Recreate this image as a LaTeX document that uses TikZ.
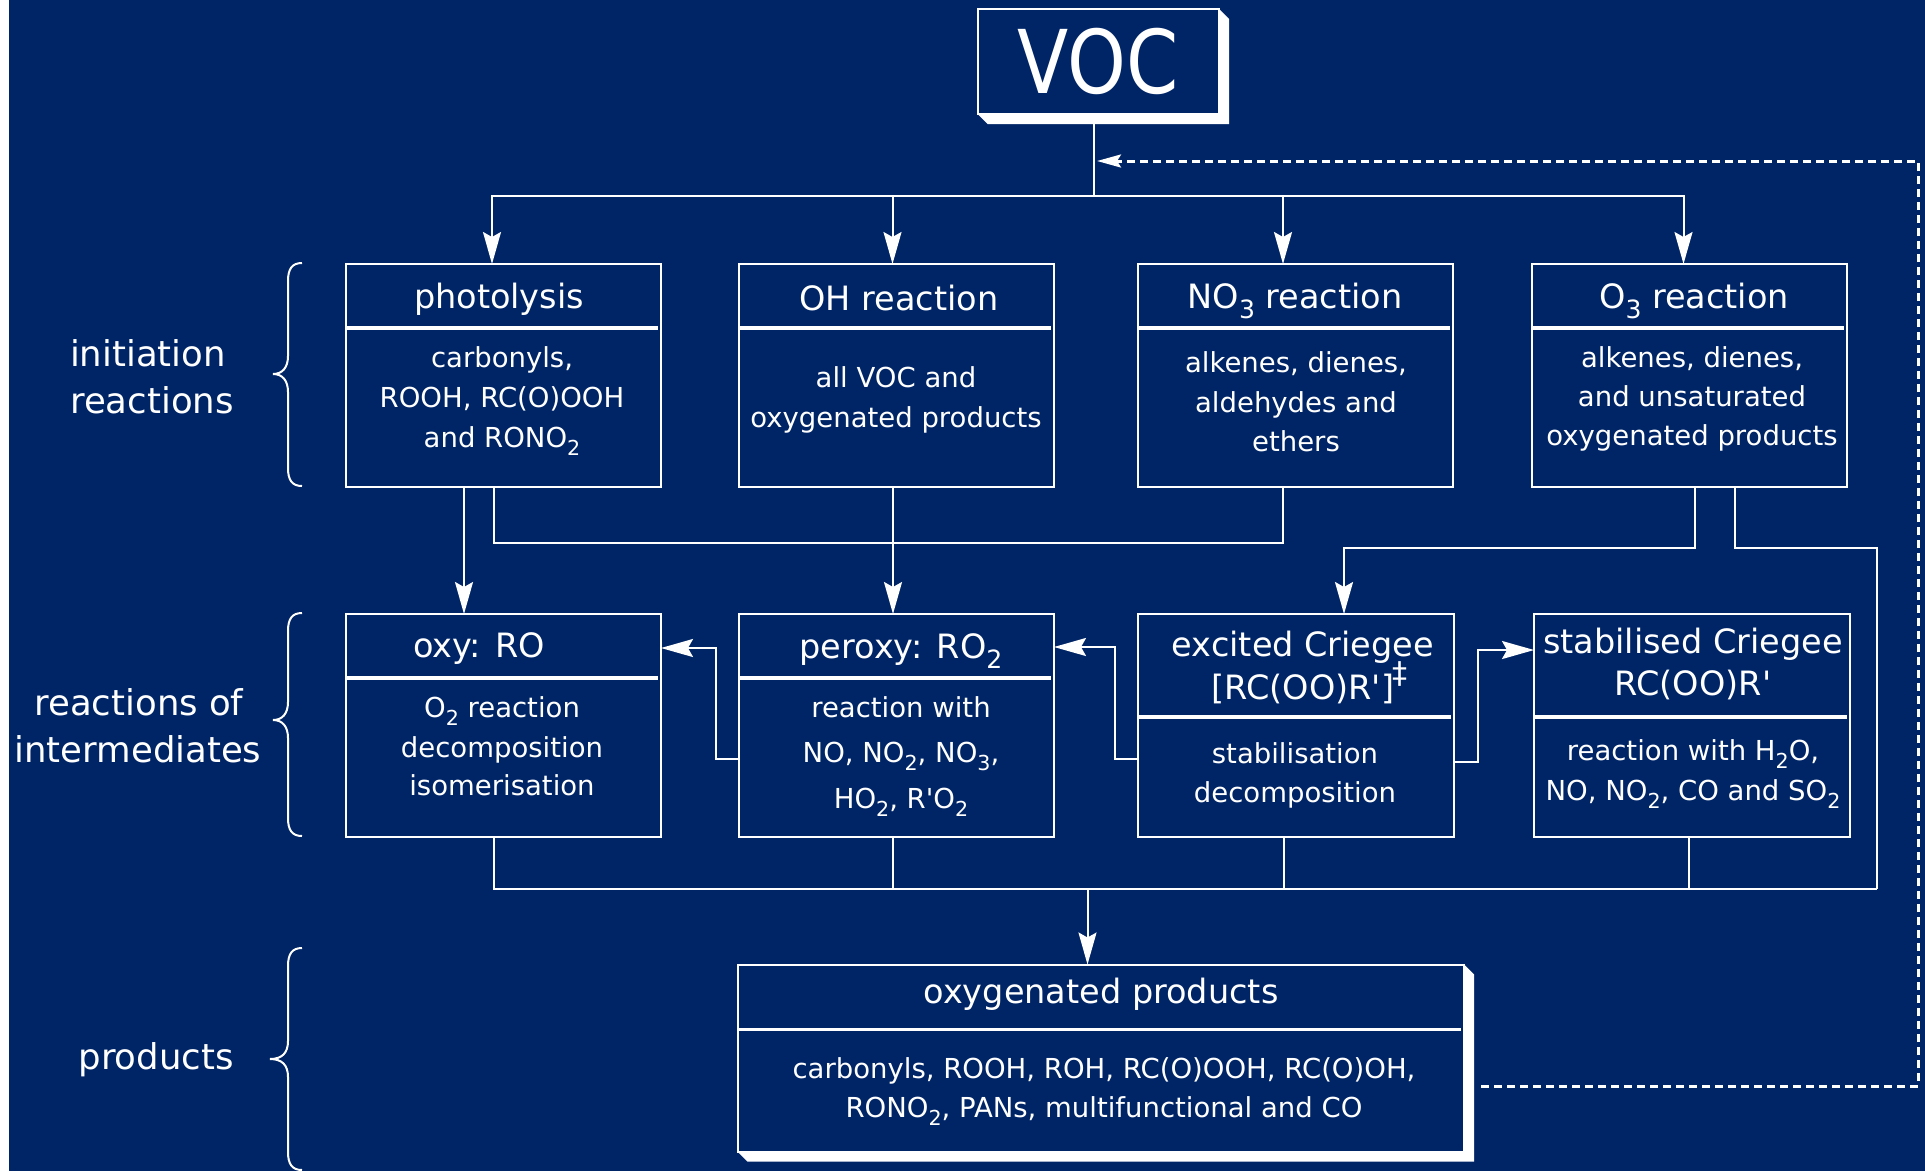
\documentclass[tikz,border=0pt]{standalone}
\usepackage{fontspec}
\setmainfont{DejaVu Sans}
\usepackage{graphicx}
\usetikzlibrary{arrows.meta,calc}
\definecolor{navy}{RGB}{0,37,102}
\newcommand\chsub[1]{\raisebox{-0.3em}{\scalebox{0.75}{#1}}}
\newcommand\apos{\textquotesingle}
\begin{document}
\begin{tikzpicture}[x=1pt,y=-1pt,
  box/.style={draw=white,line width=2pt,inner sep=0pt,outer sep=0pt,anchor=north west},
  divider/.style={draw=white,line width=3.5pt},
  ttl/.style={text=white,inner sep=0pt,anchor=base,font=\fontsize{33.5}{40}\selectfont},
  bod/.style={text=white,inner sep=0pt,anchor=base,font=\fontsize{27.5}{40}\selectfont},
  lbl/.style={text=white,inner sep=0pt,anchor=base,font=\fontsize{35.5}{47}\selectfont},
  conn/.style={draw=white,line width=2pt},
  arr/.style={conn,-{Stealth[length=32pt,width=18pt,inset=5pt]}},
  dashline/.style={draw=white,line width=3pt,dash pattern=on 8pt off 5pt},
  darr/.style={dashline,-{Stealth[length=24pt,width=13pt,inset=4pt]}},
  bracestyle/.style={draw=white,line width=2pt}]
\useasboundingbox (0,0) rectangle (1925,1171);
\fill[white] (0,0) rectangle (1925,1171);
\fill[navy] (9,0) rectangle (1925,1171);

% ---------- VOC ----------
\node[box,minimum width=241.5pt,minimum height=105pt] (voc) at (977.5,9) {};
\fill[white] (voc.north east) -- ($(voc.north east)+(10,10)$) -- ($(voc.south east)+(10,10)$)
  -- ($(voc.south west)+(10,10)$) -- (voc.south west) -- (voc.south east) -- cycle;
\node[text=white,inner sep=0pt,anchor=base,font=\fontsize{88}{88}\selectfont] (voct) at (1098,93) {\scalebox{0.85}[1]{VOC}};

% ---------- row 1 ----------
\node[box,minimum width=315pt,minimum height=223pt] (photo) at (345.5,264) {};
\node[box,minimum width=315pt,minimum height=223pt] (oh) at (739,264) {};
\node[box,minimum width=315pt,minimum height=223pt] (nothree) at (1138,264) {};
\node[box,minimum width=315pt,minimum height=223pt] (othree) at (1531.5,264) {};
\foreach \b in {photo,oh,nothree,othree}
  \draw[divider] ($(\b.north west)+(0,64)$) -- ($(\b.north east)+(-3,64)$);

\node[ttl] (photoT) at (499,308.5) {photolysis};
\node[bod] (photoB1) at (502,367) {carbonyls,};
\node[bod] (photoB2) at (502,407) {ROOH, RC(O)OOH};
\node[bod] (photoB3) at (502,447) {and RONO\chsub{2}};

\node[ttl] (ohT) at (899,310) {OH reaction};
\node[bod] (ohB1) at (896,387) {all VOC and};
\node[bod] (ohB2) at (896,427) {oxygenated products};

\node[ttl] (nothreeT) at (1295,308.5) {NO\chsub{3} reaction};
\node[bod] (nothreeB1) at (1296,372) {alkenes, dienes,};
\node[bod] (nothreeB2) at (1296,412) {aldehydes and};
\node[bod] (nothreeB3) at (1296,451) {ethers};

\node[ttl] (othreeT) at (1694,308.5) {O\chsub{3} reaction};
\node[bod] (othreeB1) at (1692,367) {alkenes, dienes,};
\node[bod] (othreeB2) at (1692,406) {and unsaturated};
\node[bod] (othreeB3) at (1692,445) {oxygenated products};

% ---------- row 2 ----------
\node[box,minimum width=315.5pt,minimum height=223pt] (oxy) at (345.5,614) {};
\node[box,minimum width=315pt,minimum height=223pt] (peroxy) at (739,614) {};
\node[box,minimum width=315.5pt,minimum height=223pt] (exc) at (1138,614) {};
\node[box,minimum width=315.5pt,minimum height=223pt] (stab) at (1534,614) {};
\foreach \b in {oxy,peroxy}
  \draw[divider] ($(\b.north west)+(0,64)$) -- ($(\b.north east)+(-3,64)$);
\foreach \b in {exc,stab}
  \draw[divider] ($(\b.north west)+(0,103)$) -- ($(\b.north east)+(-3,103)$);

\node[ttl] (oxyT) at (479,657) {oxy: RO};
\node[bod] (oxyB1) at (502,717) {O\chsub{2} reaction};
\node[bod] (oxyB2) at (502,757) {decomposition};
\node[bod] (oxyB3) at (502,795) {isomerisation};

\node[ttl] (peroxyT) at (901,658) {peroxy: RO\chsub{2}};
\node[bod] (peroxyB1) at (901,717) {reaction with};
\node[bod] (peroxyB2) at (901,762) {NO, NO\chsub{2}, NO\chsub{3},};
\node[bod] (peroxyB3) at (901,808) {HO\chsub{2}, R\apos O\chsub{2}};

\node[ttl] (excT1) at (1303,656) {excited Criegee};
\node[ttl] (excT2) at (1303,699) {[RC(OO)R\apos]};
\node[text=white,inner sep=0pt,font=\fontsize{30}{30}\selectfont] (excdag) at (1400,674) {‡};
\node[bod] (excB1) at (1295,763) {stabilisation};
\node[bod] (excB2) at (1295,802) {decomposition};

\node[ttl] (stabT1) at (1693,653) {stabilised Criegee};
\node[ttl] (stabT2) at (1693,695) {RC(OO)R\apos};
\node[bod] (stabB1) at (1693,760) {reaction with H\chsub{2}O,};
\node[bod] (stabB2) at (1693,800) {NO, NO\chsub{2}, CO and SO\chsub{2}};

% ---------- products ----------
\node[box,minimum width=726.5pt,minimum height=187pt] (prod) at (737.5,964.5) {};
\fill[white] (prod.north east) -- ($(prod.north east)+(10,10)$) -- ($(prod.south east)+(10,10)$)
  -- ($(prod.south west)+(10,10)$) -- (prod.south west) -- (prod.south east) -- cycle;
\draw[divider] ($(prod.north west)+(0,65)$) -- ($(prod.north east)+(-3,65)$);
\node[ttl] (prodT) at (1101,1003) {oxygenated products};
\node[bod] (prodB1) at (1104,1078) {carbonyls, ROOH, ROH, RC(O)OOH, RC(O)OH,};
\node[bod] (prodB2) at (1104,1117) {RONO\chsub{2}, PANs, multifunctional and CO};

% ---------- side labels ----------
\node[lbl] (lab1a) at (148,366) {initiation};
\node[lbl] (lab1b) at (152,413) {reactions};
\node[lbl] (lab2a) at (139,715) {reactions of};
\node[lbl] (lab2b) at (138,762) {intermediates};
\node[lbl] (lab3) at (156,1069) {products};

% braces
\draw[bracestyle] (302,263) .. controls (292,263) and (288,269) .. (288,281) -- (288,356)
  .. controls (288,368) and (282,374) .. (273,374) .. controls (282,374) and (288,380) .. (288,392)
  -- (288,468) .. controls (288,480) and (292,486) .. (302,486);
\draw[bracestyle] (302,613) .. controls (292,613) and (288,619) .. (288,631) -- (288,702)
  .. controls (288,714) and (282,720) .. (273,720) .. controls (282,720) and (288,726) .. (288,738)
  -- (288,818) .. controls (288,830) and (292,836) .. (302,836);
\draw[bracestyle] (302,948) .. controls (292,948) and (288,954) .. (288,966) -- (288,1041)
  .. controls (288,1053) and (282,1059) .. (270,1059) .. controls (282,1059) and (288,1065) .. (288,1077)
  -- (288,1152) .. controls (288,1164) and (292,1170) .. (302,1170);

% ---------- connectors ----------
\coordinate (vocout) at (1094,124);
\coordinate (jtop) at (1094,196);
\draw[conn] (vocout) -- (jtop);
\draw[arr] (jtop) -| (492,0 |- photo.north);
\draw[arr] (jtop) -| (892.5,0 |- oh.north);
\draw[arr] (jtop) -| (1283,0 |- nothree.north);
\draw[arr] (jtop) -| (1683.5,0 |- othree.north);

\draw[arr] (464,0 |- photo.south) -- (464,0 |- oxy.north);
\draw[arr] (893,0 |- oh.south) -- (893,0 |- peroxy.north);
\coordinate (jmid) at (1283,543);
\draw[conn] (493.5,0 |- photo.south) |- (jmid) -- (1283,0 |- nothree.south);
\draw[arr] (1695,0 |- othree.south) |- (1344,548) -- (1344,0 |- exc.north);
\coordinate (jbotR) at (1877,889);
\coordinate (jbotL) at (493.5,889);
\draw[conn] (1735,0 |- othree.south) |- (1877,548) -- (jbotR);

\draw[arr] (peroxy.west |- 0,759) -| (716,648) -- (oxy.east |- 0,648);
\draw[arr] (exc.west |- 0,759) -| (1115,647) -- (peroxy.east |- 0,647);
\draw[arr] (exc.east |- 0,762) -| (1478,650) -- (stab.west |- 0,650);

\draw[conn] (493.5,0 |- oxy.south) -- (jbotL) -- (jbotR);
\draw[conn] (893.4,0 |- peroxy.south) -- (893.4,889);
\draw[conn] (1283.5,0 |- exc.south) -- (1283.5,889);
\draw[conn] (1689,0 |- stab.south) -- (1689,889);
\draw[arr] (1087.5,889) -- (1087.5,0 |- prod.north);

\coordinate (dstart) at (1481,1086);
\coordinate (dend) at (1097,161);
\draw[darr] (dstart) -- (1918,1086) -- (1918,161) -- (dend);
\end{tikzpicture}
\end{document}
